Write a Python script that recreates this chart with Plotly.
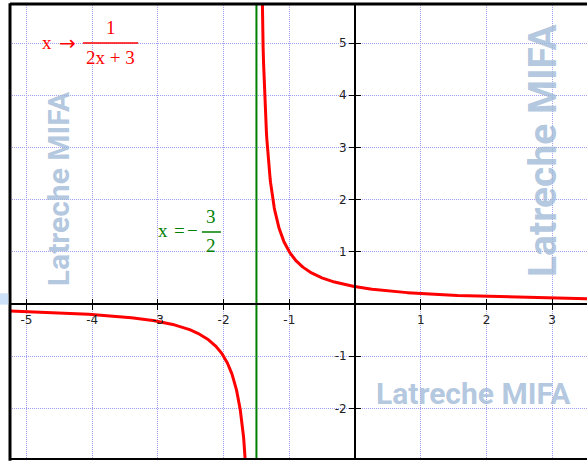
import numpy as np
import plotly.graph_objects as go

# f(x) = num / (a*x + b)
num, a, b = 1, 2, 3
asymptote_x = -b / a

x_range = [-5.25, 3.53]
y_range = [-2.97, 5.73]

x_ticks = [-5, -4, -3, -2, -1, 1, 2, 3]
x_tick_text = ["-5", "-4", "-3", "-2", "-1", "1", "2", "3"]
y_ticks = [-2, -1, 1, 2, 3, 4, 5]
y_tick_text = ["-2", "-1", "1", "2", "3", "4", "5"]

left_x = np.linspace(x_range[0], asymptote_x - 0.001, 800)
right_x = np.linspace(asymptote_x + 0.001, x_range[1], 800)
curve_x = np.concatenate([left_x, [np.nan], right_x])
curve_y = num / (a * curve_x + b)

RED = "rgb(255,0,0)"
GREEN = "rgb(0,128,0)"
GRID = "rgb(160,160,245)"
WM = "rgba(160,185,215,0.8)"

fig = go.Figure()
fig.add_trace(go.Scatter(x=curve_x, y=curve_y, mode="lines",
                         line=dict(color=RED, width=3), connectgaps=False,
                         hoverinfo="skip", showlegend=False))
fig.add_trace(go.Scatter(x=[asymptote_x, asymptote_x], y=y_range, mode="lines",
                         line=dict(color=GREEN, width=2),
                         hoverinfo="skip", showlegend=False))
# empty trace so the overlay axes (inner half of the cross ticks) exist
fig.add_trace(go.Scatter(x=[None], y=[None], xaxis="x2", yaxis="y2",
                         showlegend=False, hoverinfo="skip"))

x_pos = (0 - y_range[0]) / (y_range[1] - y_range[0])
y_pos = (0 - x_range[0]) / (x_range[1] - x_range[0])
tick_font = dict(family="DejaVu Sans", size=12, color="#222")

common_x = dict(range=x_range, tickvals=x_ticks, zeroline=False,
                anchor="free", position=x_pos, ticklen=5, tickwidth=1,
                tickcolor="black", fixedrange=True)
common_y = dict(range=y_range, tickvals=y_ticks, zeroline=False,
                anchor="free", position=y_pos, ticklen=5, tickwidth=1,
                tickcolor="black", fixedrange=True)

fig.update_layout(
    width=587, height=461,
    margin=dict(l=10, r=0, t=5, b=2),
    paper_bgcolor="white", plot_bgcolor="white",
    xaxis=dict(**common_x, ticktext=x_tick_text, ticks="outside",
               showgrid=True, gridcolor=GRID, griddash="1px,1px", gridwidth=1,
               showline=True, linecolor="black", linewidth=2,
               tickfont=tick_font),
    yaxis=dict(**common_y, ticktext=y_tick_text, ticks="outside",
               showgrid=True, gridcolor=GRID, griddash="1px,1px", gridwidth=1,
               showline=True, linecolor="black", linewidth=2,
               tickfont=tick_font),
    xaxis2=dict(**common_x, overlaying="x", ticks="inside",
                showticklabels=False, showgrid=False, showline=False),
    yaxis2=dict(**common_y, overlaying="y", ticks="inside",
                showticklabels=False, showgrid=False, showline=False),
    showlegend=False,
)

# frame on left, top and bottom
frame = dict(color="black", width=3)
fig.add_shape(type="line", xref="paper", yref="paper", x0=0, x1=0, y0=-0.004, y1=1.004, line=frame)
fig.add_shape(type="line", xref="paper", yref="paper", x0=0, x1=1, y0=1.002, y1=1.002, line=frame)
fig.add_shape(type="line", xref="paper", yref="paper", x0=0, x1=1, y0=0, y1=0, line=dict(color="black", width=2))
fig.add_shape(type="rect", xref="paper", yref="paper", x0=-0.018, x1=-0.003, y0=0.34, y1=0.365,
              fillcolor="rgb(205,225,248)", line=dict(width=0))

serif = "Liberation Serif"
def label(x, y, text, color, size=19, family=serif):
    fig.add_annotation(x=x, y=y, text=text, showarrow=False, xref="x", yref="y",
                       font=dict(family=family, size=size, color=color),
                       xanchor="center", yanchor="middle")

# x -> 1/(2x+3)
label(-4.69, 5.02, "x", RED)
label(-4.37, 5.01, "→", RED, size=20, family="DejaVu Sans")
label(-3.72, 5.30, "1", RED)
label(-3.72, 4.73, "2x + 3", RED)
fig.add_shape(type="line", xref="x", yref="y", x0=-4.14, x1=-3.30, y0=5.0, y1=5.0,
              line=dict(color=RED, width=1.5))

# x = -3/2
label(-2.92, 1.40, "x", GREEN)
label(-2.67, 1.40, "=", GREEN)
label(-2.48, 1.40, "−", GREEN)
label(-2.19, 1.67, "3", GREEN)
label(-2.19, 1.12, "2", GREEN)
fig.add_shape(type="line", xref="x", yref="y", x0=-2.33, x1=-2.04, y0=1.38, y1=1.38,
              line=dict(color=GREEN, width=1.5))

# watermarks
wm_font = "Roboto"
fig.add_annotation(x=1.81, y=-1.72, text="<b>Latreche MIFA</b>", showarrow=False,
                   font=dict(family=wm_font, size=30, color=WM))
fig.add_annotation(x=-4.52, y=2.22, text="<b>Latreche MIFA</b>", showarrow=False,
                   textangle=-90, font=dict(family=wm_font, size=30, color=WM))
fig.add_annotation(x=2.86, y=2.95, text="<b>Latreche MIFA</b>", showarrow=False,
                   textangle=-90, font=dict(family=wm_font, size=39, color=WM))

fig.write_html("out.html")
